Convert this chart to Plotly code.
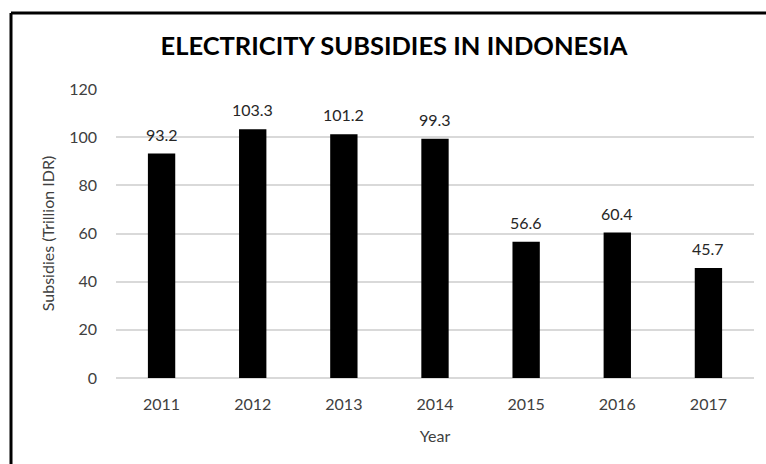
import plotly.graph_objects as go

years = ["2011", "2012", "2013", "2014", "2015", "2016", "2017"]
subsidies = [93.2, 103.3, 101.2, 99.3, 56.6, 60.4, 45.7]
y_ticks = [0, 20, 40, 60, 80, 100, 120]

FONT = "Lato, 'Open Sans', sans-serif"
W, H = 766, 464
L, R, T, B = 116, 12, 89, 86
pw, ph = W - L - R, H - T - B

def px_to_paper_x(x):
    return (x - L) / pw

def px_to_paper_y(y):
    return (H - B - y) / ph

fig = go.Figure(go.Bar(
    x=years, y=subsidies,
    marker=dict(color="black", line=dict(width=0)),
))

# data labels: x given as the category index on the category axis
annotations = [
    dict(x=i, y=v, xref="x", yref="y", text=f"{v:.1f}", showarrow=False,
         yanchor="bottom", yshift=8,
         font=dict(size=16, color="#262626", family=FONT))
    for i, v in enumerate(subsidies)
]

fig.update_layout(
    width=W, height=H,
    margin=dict(l=L, r=R, t=T, b=B),
    plot_bgcolor="white", paper_bgcolor="white",
    bargap=0.7,
    showlegend=False,
    title=dict(text="<b>ELECTRICITY SUBSIDIES IN INDONESIA</b>",
               x=394 / W, xanchor="center", y=1 - 46 / H, yanchor="middle",
               font=dict(size=25.5, color="black", family=FONT)),
    font=dict(family=FONT, color="#404040"),
    xaxis=dict(type="category", categoryarray=years,
               title=dict(text="Year", font=dict(size=16, color="#404040"), standoff=18),
               tickfont=dict(size=16, color="#404040"),
               showgrid=False, showline=False, ticks="", ticklabelstandoff=15),
    yaxis=dict(title=dict(text="Subsidies (Trillion IDR)", font=dict(size=16, color="#404040"), standoff=10),
               range=[0, 120], tickvals=y_ticks,
               tickfont=dict(size=16, color="#404040"),
               showgrid=True, gridcolor="#d9d9d9", gridwidth=1.5,
               zeroline=True, zerolinecolor="#d9d9d9", zerolinewidth=1.5,
               showline=False, ticks="", ticklabelstandoff=18),
    annotations=annotations,
    shapes=[
        dict(type="line", xref="paper", yref="paper",
             x0=px_to_paper_x(11), x1=px_to_paper_x(W + 5),
             y0=px_to_paper_y(13), y1=px_to_paper_y(13),
             line=dict(color="black", width=3)),
        dict(type="line", xref="paper", yref="paper",
             x0=px_to_paper_x(11), x1=px_to_paper_x(11),
             y0=px_to_paper_y(13), y1=px_to_paper_y(H + 5),
             line=dict(color="black", width=3)),
    ],
)

fig.write_html("out.html")
